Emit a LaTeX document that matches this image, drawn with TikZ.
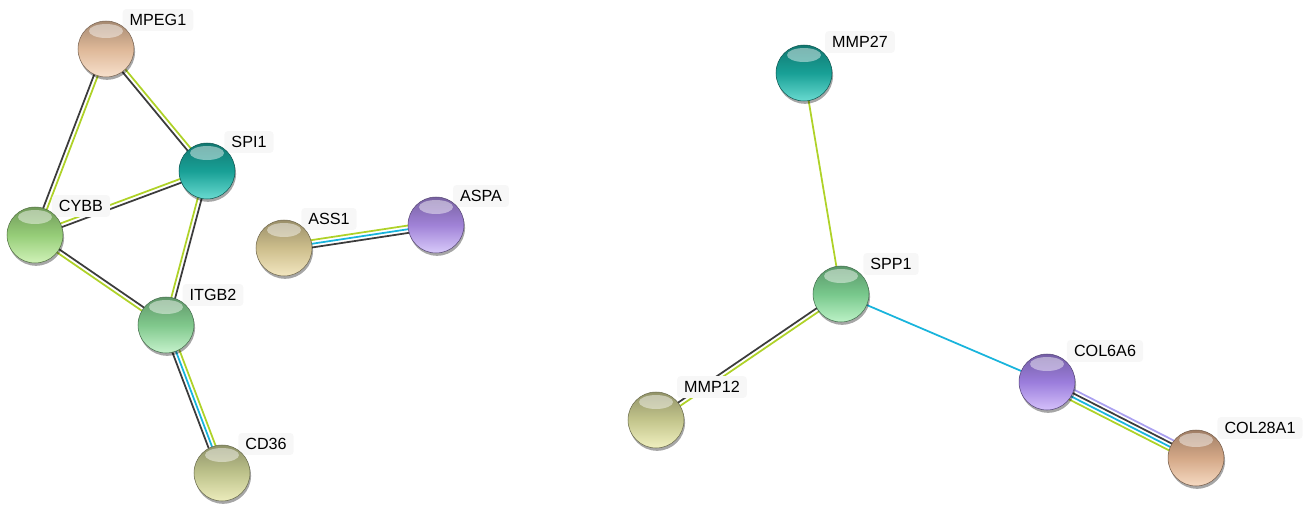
\documentclass[tikz,border=0pt]{standalone}
\usepackage{fontspec}
\setmainfont{Liberation Sans}
\usetikzlibrary{calc,shadows,backgrounds}
\definecolor{eg}{RGB}{175,210,40}
\definecolor{ek}{RGB}{60,60,60}
\definecolor{eb}{RGB}{25,180,220}
\definecolor{ep}{RGB}{170,160,240}
\definecolor{bMPEG}{RGB}{222,184,152}\definecolor{lMPEG}{RGB}{247,224,204}
\definecolor{bTEAL}{RGB}{24,160,150}\definecolor{lTEAL}{RGB}{105,218,208}
\definecolor{bCYBB}{RGB}{150,205,120}\definecolor{lCYBB}{RGB}{208,242,184}
\definecolor{bITGB}{RGB}{128,200,140}\definecolor{lITGB}{RGB}{198,242,204}
\definecolor{bCD}{RGB}{190,195,140}\definecolor{lCD}{RGB}{236,236,188}
\definecolor{bASS}{RGB}{205,190,140}\definecolor{lASS}{RGB}{242,230,192}
\definecolor{bASPA}{RGB}{160,130,215}\definecolor{lASPA}{RGB}{216,202,250}
\definecolor{bSPP}{RGB}{120,200,140}\definecolor{lSPP}{RGB}{188,242,198}
\definecolor{bMMP}{RGB}{195,197,140}\definecolor{lMMP}{RGB}{240,240,192}
\definecolor{bCOL6}{RGB}{155,125,220}\definecolor{lCOL6}{RGB}{212,192,250}
\definecolor{bCOL28}{RGB}{212,168,135}\definecolor{lCOL28}{RGB}{246,218,194}
\tikzset{
  ballst/.style 2 args={circle, minimum size=1.12cm, inner sep=0pt,
    top color=#1!75!black, bottom color=#2, middle color=#1,
    draw=#1!55!black, line width=0.3pt,
    drop shadow={shadow xshift=0.6pt, shadow yshift=-1.6pt, fill=black, opacity=0.35},
    path picture={\fill[white,opacity=0.45] ([yshift=-0.2cm]path picture bounding box.north) ellipse (0.34cm and 0.14cm);}},
  lab/.style={font=\fontsize{9.2}{11}\selectfont, fill=gray!6, rounded corners=2pt, inner xsep=4pt, inner ysep=3pt},
  edge/.style={line width=1pt}
}
\newcommand\edgeline[4]{\draw[edge,#3] ($(#1)!#4!90:(#2)$) -- ($(#2)!#4!-90:(#1)$);}
\begin{document}
\begin{tikzpicture}[x=0.02cm,y=-0.02cm]
\useasboundingbox (0,0) rectangle (1309,504);
% labels
\node[lab] (lmpeg) at (158,20) {MPEG1};
\node[lab] (lspi) at (249,142) {SPI1};
\node[lab] (lcybb) at (81,206) {CYBB};
\node[lab] (litgb) at (213,295) {ITGB2};
\node[lab] (lcd) at (266,444) {CD36};
\node[lab] (lass) at (329,219) {ASS1};
\node[lab] (laspa) at (481,196) {ASPA};
\node[lab] (lmmp27) at (860,42) {MMP27};
\node[lab] (lspp) at (891,264) {SPP1};
\node[lab] (lmmp12) at (712,387) {MMP12};
\node[lab] (lcol6) at (1105,351) {COL6A6};
\node[lab] (lcol28) at (1260,428) {COL28A1};
% nodes
\node[ballst={bMPEG}{lMPEG}] (mpeg1) at (106,49) {};
\node[ballst={bTEAL}{lTEAL}] (spi1) at (207,171) {};
\node[ballst={bCYBB}{lCYBB}] (cybb) at (35,235) {};
\node[ballst={bITGB}{lITGB}] (itgb2) at (166,325) {};
\node[ballst={bCD}{lCD}] (cd36) at (222,473) {};
\node[ballst={bASS}{lASS}] (ass1) at (284,248) {};
\node[ballst={bASPA}{lASPA}] (aspa) at (436,225) {};
\node[ballst={bTEAL}{lTEAL}] (mmp27) at (804,73) {};
\node[ballst={bSPP}{lSPP}] (spp1) at (841,294) {};
\node[ballst={bMMP}{lMMP}] (mmp12) at (656,420) {};
\node[ballst={bCOL6}{lCOL6}] (col6a6) at (1047,382) {};
\node[ballst={bCOL28}{lCOL28}] (col28a1) at (1196,458) {};
% edges
\begin{pgfonlayer}{background}
\edgeline{mpeg1}{spi1}{eg}{1.1pt}\edgeline{mpeg1}{spi1}{ek}{-1.1pt}
\edgeline{mpeg1}{cybb}{eg}{1.1pt}\edgeline{mpeg1}{cybb}{ek}{-1.1pt}
\edgeline{cybb}{spi1}{eg}{1.1pt}\edgeline{cybb}{spi1}{ek}{-1.1pt}
\edgeline{cybb}{itgb2}{ek}{1.1pt}\edgeline{cybb}{itgb2}{eg}{-1.1pt}
\edgeline{spi1}{itgb2}{ek}{1.1pt}\edgeline{spi1}{itgb2}{eg}{-1.1pt}
\edgeline{itgb2}{cd36}{eg}{2.1pt}\edgeline{itgb2}{cd36}{eb}{0pt}\edgeline{itgb2}{cd36}{ek}{-2.1pt}
\edgeline{ass1}{aspa}{eg}{2.1pt}\edgeline{ass1}{aspa}{eb}{0pt}\edgeline{ass1}{aspa}{ek}{-2.1pt}
\edgeline{mmp27}{spp1}{eg}{0pt}
\edgeline{spp1}{mmp12}{eg}{1.1pt}\edgeline{spp1}{mmp12}{ek}{-1.1pt}
\edgeline{spp1}{col6a6}{eb}{0pt}
\edgeline{col6a6}{col28a1}{ep}{3.1pt}\edgeline{col6a6}{col28a1}{ek}{1.05pt}
\edgeline{col6a6}{col28a1}{eb}{-1.05pt}\edgeline{col6a6}{col28a1}{eg}{-3.1pt}
\end{pgfonlayer}
\end{tikzpicture}
\end{document}
